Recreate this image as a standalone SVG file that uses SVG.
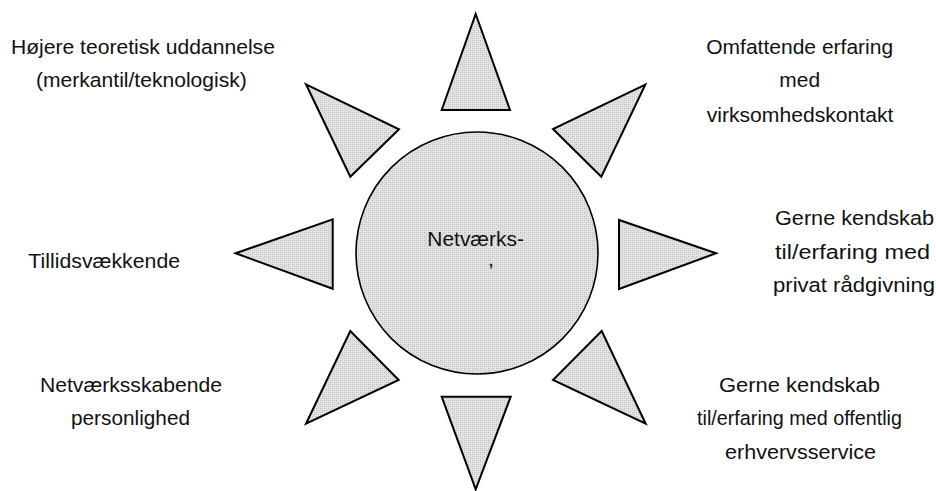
<svg xmlns="http://www.w3.org/2000/svg" width="936" height="491" viewBox="0 0 936 491">
<defs>
<pattern id="dots" width="4" height="4" patternUnits="userSpaceOnUse">
<rect width="4" height="4" fill="#e3e3e3"/>
<rect x="0" y="0" width="1" height="1" fill="#b8b8b8"/>
<rect x="2" y="2" width="1" height="1" fill="#b8b8b8"/>
<rect x="2" y="0" width="1" height="1" fill="#cfcfcf"/>
<rect x="0" y="2" width="1" height="1" fill="#cfcfcf"/>
</pattern>
</defs>
<style>
.ray{fill:url(#dots);stroke:#000;stroke-width:2;stroke-linejoin:miter}
.core{fill:url(#dots);stroke:#000;stroke-width:1.6}
.lbl{font-family:"Liberation Sans",Arial,sans-serif;font-size:20.5px;fill:#111;text-anchor:middle}
</style>
<rect width="936" height="491" fill="#fff"/>
<g id="connectors"/>
<g id="sun-core">
<circle class="core" cx="477" cy="253" r="121"/>
<text class="lbl" x="475.6" y="246" textLength="96.7" lengthAdjust="spacingAndGlyphs">Netværks-</text>
<text x="489" y="266" style="font-family:'Liberation Sans',Arial,sans-serif;font-size:14px;font-weight:bold;fill:#111">,</text>
</g>
<g id="ray-top"><polygon class="ray" points="475.7,14 510,110 441.7,110"/></g>
<g id="ray-top-left"><polygon class="ray" points="306,84.3 399,129.3 350.3,176.7"/></g>
<g id="ray-top-right"><polygon class="ray" points="645.3,84.7 553,129 601.3,176.7"/></g>
<g id="ray-left"><polygon class="ray" points="235.7,253.3 332.7,219.3 332.7,288.7"/></g>
<g id="ray-right"><polygon class="ray" points="716,253.3 619,220 619,289"/></g>
<g id="ray-bottom-left"><polygon class="ray" points="350.3,331 398.7,380 306,423.7"/></g>
<g id="ray-bottom-right"><polygon class="ray" points="601.7,331 553,380 645.7,423.7"/></g>
<g id="ray-bottom"><polygon class="ray" points="441.7,396.7 510.7,396.7 475.7,489.3"/></g>
<g id="label-top-left">
<text class="lbl" x="142.9" y="54" textLength="264" lengthAdjust="spacingAndGlyphs">Højere teoretisk uddannelse</text>
<text class="lbl" x="141.4" y="86.5" textLength="210.7" lengthAdjust="spacingAndGlyphs">(merkantil/teknologisk)</text>
</g>
<g id="label-top-right">
<text class="lbl" x="799.7" y="54" textLength="187" lengthAdjust="spacingAndGlyphs">Omfattende erfaring</text>
<text class="lbl" x="799.7" y="87" textLength="40.7" lengthAdjust="spacingAndGlyphs">med</text>
<text class="lbl" x="800" y="121.7" textLength="186.7" lengthAdjust="spacingAndGlyphs">virksomhedskontakt</text>
</g>
<g id="label-left">
<text class="lbl" x="104.2" y="268.3" textLength="151.7" lengthAdjust="spacingAndGlyphs">Tillidsvækkende</text>
</g>
<g id="label-right">
<text class="lbl" x="854.5" y="225" textLength="159" lengthAdjust="spacingAndGlyphs">Gerne kendskab</text>
<text class="lbl" x="852.5" y="259" textLength="155" lengthAdjust="spacingAndGlyphs">til/erfaring med</text>
<text class="lbl" x="854" y="292" textLength="162" lengthAdjust="spacingAndGlyphs">privat rådgivning</text>
</g>
<g id="label-bottom-left">
<text class="lbl" x="131" y="392" textLength="182" lengthAdjust="spacingAndGlyphs">Netværksskabende</text>
<text class="lbl" x="130.5" y="425" textLength="119" lengthAdjust="spacingAndGlyphs">personlighed</text>
</g>
<g id="label-bottom-right">
<text class="lbl" x="799.5" y="392" textLength="161" lengthAdjust="spacingAndGlyphs">Gerne kendskab</text>
<text class="lbl" x="799.5" y="425" textLength="205" lengthAdjust="spacingAndGlyphs">til/erfaring med offentlig</text>
<text class="lbl" x="800.5" y="459" textLength="151" lengthAdjust="spacingAndGlyphs">erhvervsservice</text>
</g>
</svg>
